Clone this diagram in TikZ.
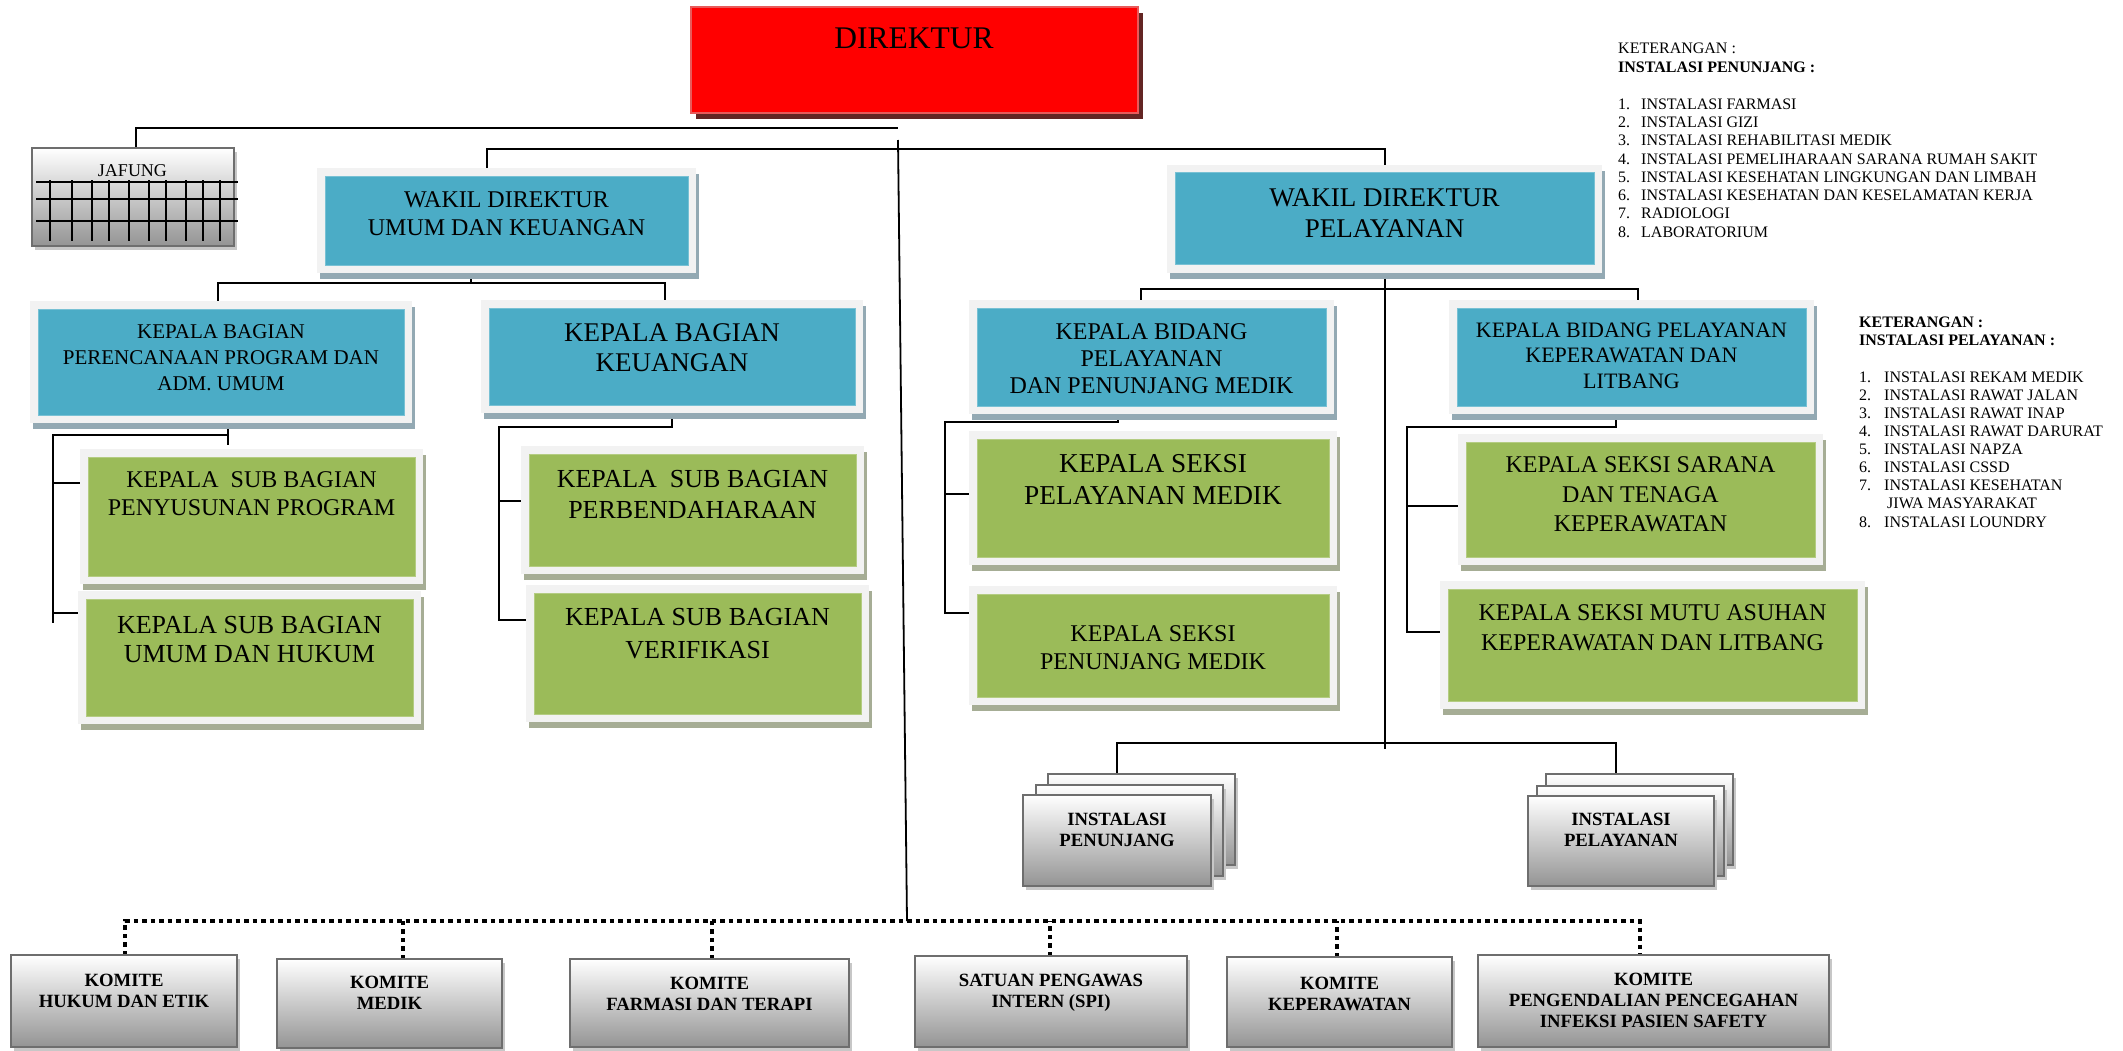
\documentclass[tikz,border=0pt]{standalone}
\usepackage{fontspec}
\setmainfont{Liberation Serif}
\usetikzlibrary{backgrounds}
\definecolor{boxblue}{HTML}{4BACC6}
\definecolor{boxgreen}{HTML}{9BBB59}
\definecolor{framegray}{HTML}{F2F2F2}
\definecolor{shblue}{HTML}{93A9B3}
\definecolor{shgreen}{HTML}{A6AD95}
\definecolor{dirred}{HTML}{FF0000}
\definecolor{diredge}{HTML}{E85A5A}
\definecolor{dirshadow}{HTML}{632523}
\definecolor{graybord}{HTML}{6E6E6E}
\newcommand\fs[2]{\fontsize{#1}{#2}\selectfont}
\begin{document}
\begin{tikzpicture}[x=1pt,y=-1pt,
  framed/.style={rectangle, inner sep=0pt, outer sep=0pt, line width=1pt,
    preaction={draw=#1, fill=#1, line width=16pt, transform canvas={xshift=3pt,yshift=-6pt}},
    preaction={draw=framegray, line width=16pt}},
  bluebox/.style={framed=shblue, fill=boxblue, draw=boxblue!75!white},
  greenbox/.style={framed=shgreen, fill=boxgreen, draw=boxgreen!75!white},
  graybox/.style={rectangle, inner sep=0pt, outer sep=0pt, draw=graybord, line width=2pt,
    top color=white, bottom color=black!42,
    preaction={fill=black!22, transform canvas={xshift=3pt,yshift=-4pt}}},
  dirbox/.style={rectangle, inner sep=0pt, outer sep=0pt, fill=dirred, draw=diredge, line width=2.5pt,
    preaction={fill=dirshadow, transform canvas={xshift=5pt,yshift=-6pt}}},
  txt/.style={align=center, inner sep=0pt, text=black},
  btxt/.style={txt, font=\bfseries\fs{18.7}{21}},
  legend/.style={align=left, inner sep=0pt, anchor=west, text=black},
  conn/.style={draw=black, line width=2pt},
  dotline/.style={draw=black, line width=4pt, dash pattern=on 4.5pt off 4pt},
]
\useasboundingbox (0,0) rectangle (2123,1050);

% ---------- DIREKTUR ----------
\node[dirbox, minimum width=447pt, minimum height=106pt] (dir) at (914.5,60) {};
\node[txt, font=\fs{31.5}{36}] (dir-t) at (914,38) {DIREKTUR};

% ---------- JAFUNG ----------
\node[graybox, minimum width=202pt, minimum height=98pt] (jaf) at (133,197) {};
\node[txt, font=\fs{18}{21}] (jaf-t) at (132.5,171) {JAFUNG};
\foreach \yy in {182,199,221} \draw[line width=2pt] (36,\yy) -- (238,\yy);
\foreach \xx in {50,72,92,109,129,149,166,186,203,220} \draw[line width=2pt] (\xx,180) -- (\xx,241);

% ---------- WAKIL ----------
\node[bluebox, minimum width=363pt, minimum height=89pt] (wku) at (506.5,220.5) {};
\node[txt, font=\fs{24}{28}] (wku-t) at (506.5,214) {WAKIL DIREKTUR\\UMUM DAN KEUANGAN};
\node[bluebox, minimum width=419pt, minimum height=92pt] (wkp) at (1384.5,218.5) {};
\node[txt, font=\fs{27}{30.5}] (wkp-t) at (1384.5,213) {WAKIL DIREKTUR\\PELAYANAN};

% ---------- KEPALA BAGIAN ----------
\node[bluebox, minimum width=366pt, minimum height=106pt] (kbp) at (221,362) {};
\node[txt, font=\fs{21}{26}] (kbp-t) at (221,358) {KEPALA BAGIAN\\PERENCANAAN PROGRAM DAN\\ADM. UMUM};
\node[bluebox, minimum width=366pt, minimum height=97pt] (kbk) at (672,356.5) {};
\node[txt, font=\fs{27}{30}] (kbk-t) at (672,348) {KEPALA BAGIAN\\KEUANGAN};

% ---------- KEPALA BIDANG ----------
\node[bluebox, minimum width=349pt, minimum height=98pt] (kbd) at (1151.5,357) {};
\node[txt, font=\fs{24}{27}] (kbd-t) at (1151.5,359) {KEPALA BIDANG\\PELAYANAN\\DAN PENUNJANG MEDIK};
\node[bluebox, minimum width=349pt, minimum height=98pt] (kbw) at (1631.5,357) {};
\node[txt, font=\fs{22}{25.5}] (kbw-t) at (1631.5,355.5) {KEPALA BIDANG PELAYANAN\\KEPERAWATAN DAN\\LITBANG};

% ---------- SUB BAGIAN ----------
\node[greenbox, minimum width=327pt, minimum height=119pt] (ksp) at (251.5,516.5) {};
\node[txt, font=\fs{24}{28}] (ksp-t) at (251.5,494) {KEPALA\ \ SUB BAGIAN\\PENYUSUNAN PROGRAM};
\node[greenbox, minimum width=327pt, minimum height=117pt] (ksu) at (249.5,657.5) {};
\node[txt, font=\fs{26}{29}] (ksu-t) at (249.5,639.5) {KEPALA SUB BAGIAN\\UMUM DAN HUKUM};
\node[greenbox, minimum width=327pt, minimum height=112pt] (ksb) at (692.5,510) {};
\node[txt, font=\fs{26}{31}] (ksb-t) at (692.5,494.5) {KEPALA\ \ SUB BAGIAN\\PERBENDAHARAAN};
\node[greenbox, minimum width=327pt, minimum height=121pt] (ksv) at (697.5,653.5) {};
\node[txt, font=\fs{26}{33}] (ksv-t) at (697.5,633.5) {KEPALA SUB BAGIAN\\VERIFIKASI};

% ---------- SEKSI ----------
\node[greenbox, minimum width=352pt, minimum height=118pt] (ksm) at (1153,498) {};
\node[txt, font=\fs{27.3}{32}] (ksm-t) at (1153,479) {KEPALA SEKSI\\PELAYANAN MEDIK};
\node[greenbox, minimum width=352pt, minimum height=103pt] (ksn) at (1153,645.5) {};
\node[txt, font=\fs{24}{28}] (ksn-t) at (1153,648) {KEPALA SEKSI\\PENUNJANG MEDIK};
\node[greenbox, minimum width=349pt, minimum height=115pt] (kss) at (1640.5,499.5) {};
\node[txt, font=\fs{24}{29.5}] (kss-t) at (1640.5,494.5) {KEPALA SEKSI SARANA\\DAN TENAGA\\KEPERAWATAN};
\node[greenbox, minimum width=409pt, minimum height=112pt] (ksa) at (1652.5,645) {};
\node[txt, font=\fs{24}{30}] (ksa-t) at (1652.5,628) {KEPALA SEKSI MUTU ASUHAN\\KEPERAWATAN DAN LITBANG};

% ---------- INSTALASI ----------
\node[graybox, minimum width=187pt, minimum height=91pt] (ipj3) at (1141.5,819.5) {};
\node[graybox, minimum width=187pt, minimum height=91pt] (ipj2) at (1129.5,830.5) {};
\node[graybox, minimum width=188pt, minimum height=91pt] (ipj) at (1117,840.5) {};
\node[btxt] (ipj-t) at (1117,830) {INSTALASI\\PENUNJANG};
\node[graybox, minimum width=187pt, minimum height=91pt] (ipl3) at (1639.5,819.5) {};
\node[graybox, minimum width=187pt, minimum height=90pt] (ipl2) at (1630.5,831) {};
\node[graybox, minimum width=186pt, minimum height=90pt] (ipl) at (1621,841) {};
\node[btxt] (ipl-t) at (1621,830) {INSTALASI\\PELAYANAN};

% ---------- KOMITE ----------
\node[graybox, minimum width=226pt, minimum height=92pt] (hk) at (124,1001) {};
\node[btxt] (hk-t) at (124,991) {KOMITE\\HUKUM DAN ETIK};
\node[graybox, minimum width=225pt, minimum height=89pt] (km) at (389.5,1003.5) {};
\node[btxt] (km-t) at (389.5,993) {KOMITE\\MEDIK};
\node[graybox, minimum width=279pt, minimum height=88pt] (kf) at (709.5,1003) {};
\node[btxt] (kf-t) at (709.5,993.5) {KOMITE\\FARMASI DAN TERAPI};
\node[graybox, minimum width=272pt, minimum height=91pt] (spi) at (1051,1001.5) {};
\node[btxt] (spi-t) at (1051,992.5) {SATUAN PENGAWAS\\INTERN (SPI)};
\node[graybox, minimum width=225pt, minimum height=90pt] (kk) at (1339.5,1002) {};
\node[btxt] (kk-t) at (1339.5,993.5) {KOMITE\\KEPERAWATAN};
\node[graybox, minimum width=351pt, minimum height=92pt] (pp) at (1653.5,1001) {};
\node[btxt] (pp-t) at (1653.5,1000) {KOMITE\\PENGENDALIAN PENCEGAHAN\\INFEKSI PASIEN SAFETY};

% ---------- LEGENDS ----------
\node[legend, font=\fs{16}{19}] (lg1h) at (1618,57.5) {KETERANGAN :\\\textbf{INSTALASI PENUNJANG :}};
\node[legend, font=\fs{16}{18.3}] (lg1) at (1618,168) {%
\makebox[23pt][l]{1.}INSTALASI FARMASI\\
\makebox[23pt][l]{2.}INSTALASI GIZI\\
\makebox[23pt][l]{3.}INSTALASI REHABILITASI MEDIK\\
\makebox[23pt][l]{4.}INSTALASI PEMELIHARAAN SARANA RUMAH SAKIT\\
\makebox[23pt][l]{5.}INSTALASI KESEHATAN LINGKUNGAN DAN LIMBAH\\
\makebox[23pt][l]{6.}INSTALASI KESEHATAN DAN KESELAMATAN KERJA\\
\makebox[23pt][l]{7.}RADIOLOGI\\
\makebox[23pt][l]{8.}LABORATORIUM};
\node[legend, font=\bfseries\fs{16}{18}] (lg2h) at (1859,331) {KETERANGAN :\\INSTALASI PELAYANAN :};
\node[legend, font=\fs{16}{18.1}] (lg2) at (1859,449.5) {%
\makebox[25pt][l]{1.}INSTALASI REKAM MEDIK\\
\makebox[25pt][l]{2.}INSTALASI RAWAT JALAN\\
\makebox[25pt][l]{3.}INSTALASI RAWAT INAP\\
\makebox[25pt][l]{4.}INSTALASI RAWAT DARURAT\\
\makebox[25pt][l]{5.}INSTALASI NAPZA\\
\makebox[25pt][l]{6.}INSTALASI CSSD\\
\makebox[25pt][l]{7.}INSTALASI KESEHATAN\\
\hspace*{28pt}JIWA MASYARAKAT\\
\makebox[25pt][l]{8.}INSTALASI LOUNDRY};

% ---------- CONNECTORS ----------
\coordinate (c1) at (898,128);
\coordinate (dv1) at (898,140);
\coordinate (dv2) at (907,921);
\begin{scope}[on background layer]
  % Direktur level
  \draw[conn] ([xshift=3pt]jaf.north) |- (c1);
  \draw[draw=black, line width=1.8pt] (dv1) -- (dv2);
  \draw[conn] ([xshift=-19.5pt]wku.north) -- ++(0,-27) -| (wkp.north);
  % Wakil umum
  \draw[conn] ([xshift=-35.5pt]wku.south) -- ++(0,18) coordinate (j1);
  \draw[conn] ([xshift=-3pt]kbp.north) |- (j1) -| ([xshift=-7pt]kbk.north);
  % Kabag perencanaan
  \draw[conn] ([xshift=7pt]kbp.south) -- ++(0,30);
  \draw[conn] ([xshift=7pt]kbp.south |- 0,435) -| (53,623);
  \draw[conn] (53,483) -- (ksp.west |- 0,483);
  \draw[conn] (53,613) -- (ksu.west |- 0,613);
  % Kabag keuangan
  \draw[conn] (kbk.south) |- (499,427) -- (499,620) -- (ksv.west |- 0,620);
  \draw[conn] (499,501) -- (ksb.west |- 0,501);
  % Wakil pelayanan
  \draw[conn] (wkp.south) -- (wkp.south |- 0,749);
  \draw[conn] ([xshift=-10.5pt]kbd.north) |- ([xshift=6.5pt]kbw.north |- 0,289) -- ([xshift=6.5pt]kbw.north);
  % Kabid pelayanan
  \draw[conn] ([xshift=-33.5pt]kbd.south) |- (945,422) -- (945,613) -- (ksn.west |- 0,613);
  \draw[conn] (945,494) -- (ksm.west |- 0,494);
  % Kabid keperawatan
  \draw[conn] ([xshift=-15.5pt]kbw.south) |- (1407,427) -- (1407,632) -- (ksa.west |- 0,632);
  \draw[conn] (1407,506) -- (kss.west |- 0,506);
  % Instalasi
  \draw[conn] (ipj3.north -| ipj.north) -- ++(0,-31) -| ([xshift=-5pt]ipl.north |- ipl3.north);
  % Komite (dotted)
  \draw[dotline] ([xshift=1pt]hk.north) |- ([xshift=-13.5pt]pp.north |- dv2) -- ([xshift=-13.5pt]pp.north);
  \draw[dotline] ([xshift=13.5pt]km.north) -- ([xshift=13.5pt]km.north |- dv2);
  \draw[dotline] ([xshift=2.5pt]kf.north) -- ([xshift=2.5pt]kf.north |- dv2);
  \draw[dotline] ([xshift=-1pt]spi.north) -- ([xshift=-1pt]spi.north |- dv2);
  \draw[dotline] ([xshift=-2.5pt]kk.north) -- ([xshift=-2.5pt]kk.north |- dv2);
\end{scope}
\end{tikzpicture}
\end{document}
